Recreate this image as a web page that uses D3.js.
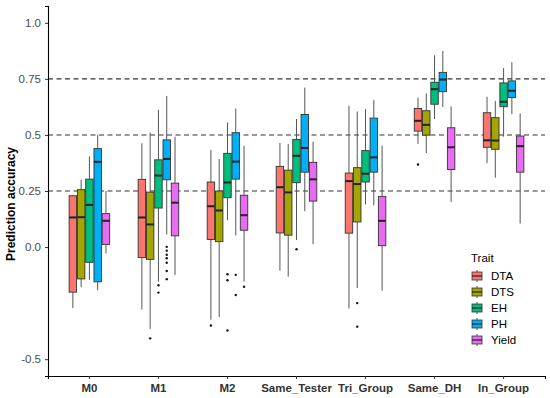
<!DOCTYPE html>
<html>
<head>
<meta charset="utf-8">
<script src="https://cdn.jsdelivr.net/npm/d3@7"></script>
<style>
  body { margin: 0; background: #fff; }
  svg { display: block; font-family: "Liberation Sans", Arial, sans-serif; }
</style>
</head>
<body>
<svg id="chart" width="550" height="398"></svg>
<script>
// groups on the x axis and the traits (fill)
const groups = ["M0", "M1", "M2", "Same_Tester", "Tri_Group", "Same_DH", "In_Group"];
const traits = ["DTA", "DTS", "EH", "PH", "Yield"];
const traitColors = ["#F8766D", "#A3A500", "#00BF7D", "#00B0F6", "#E76BF3"];
const yTicks = [1.0, 0.75, 0.5, 0.25, 0.0, -0.5];
const refLines = [0.25, 0.5, 0.75];

// per trait, one row per group: [lower whisker, q1, median, q3, upper whisker]
const dtaStats = [
  [-0.272, -0.201, 0.132, 0.229, 0.229],
  [-0.279, -0.047, 0.132, 0.302, 0.463],
  [-0.324, 0.034, 0.182, 0.290, 0.433],
  [-0.105, 0.063, 0.267, 0.360, 0.464],
  [-0.274, 0.062, 0.294, 0.330, 0.630],
  [0.460, 0.517, 0.563, 0.618, 0.667],
  [0.374, 0.445, 0.476, 0.599, 0.670]
];
const dtsStats = [
  [-0.179, -0.142, 0.133, 0.256, 0.300],
  [-0.365, -0.055, 0.101, 0.245, 0.511],
  [-0.312, 0.024, 0.163, 0.250, 0.393],
  [-0.132, 0.053, 0.244, 0.343, 0.460],
  [-0.183, 0.112, 0.281, 0.354, 0.605],
  [0.419, 0.499, 0.545, 0.608, 0.685],
  [0.309, 0.436, 0.475, 0.577, 0.652]
];
const ehStats = [
  [-0.146, -0.068, 0.188, 0.303, 0.404],
  [-0.154, 0.174, 0.319, 0.389, 0.612],
  [0.120, 0.220, 0.288, 0.418, 0.556],
  [0.031, 0.287, 0.407, 0.480, 0.571],
  [0.190, 0.290, 0.327, 0.430, 0.615],
  [0.571, 0.637, 0.704, 0.735, 0.855],
  [0.492, 0.626, 0.648, 0.732, 0.798]
];
const phStats = [
  [-0.192, -0.155, 0.380, 0.439, 0.501],
  [0.056, 0.300, 0.393, 0.478, 0.674],
  [0.052, 0.303, 0.381, 0.510, 0.618],
  [0.160, 0.334, 0.442, 0.591, 0.711],
  [0.186, 0.334, 0.400, 0.575, 0.655],
  [0.625, 0.693, 0.747, 0.779, 0.874],
  [0.593, 0.667, 0.697, 0.741, 0.824]
];
const yieldStats = [
  [-0.028, 0.012, 0.117, 0.149, 0.250],
  [-0.124, 0.050, 0.198, 0.285, 0.492],
  [-0.154, 0.075, 0.142, 0.231, 0.452],
  [0.013, 0.205, 0.302, 0.378, 0.470],
  [-0.195, 0.006, 0.117, 0.226, 0.452],
  [0.201, 0.346, 0.445, 0.532, 0.627],
  [0.105, 0.334, 0.450, 0.495, 0.596]
];
// outliers: [group, trait, value]
const outliers = [
  ["M1", "DTS", -0.407],
  ["M1", "EH", -0.170], ["M1", "EH", -0.203],
  ["M1", "PH", 0.001], ["M1", "PH", -0.016], ["M1", "PH", -0.034], ["M1", "PH", -0.050],
  ["M1", "PH", -0.070], ["M1", "PH", -0.107], ["M1", "PH", -0.143],
  ["M2", "DTA", -0.350],
  ["M2", "EH", -0.121], ["M2", "EH", -0.148], ["M2", "EH", -0.372],
  ["M2", "PH", -0.124], ["M2", "PH", -0.214],
  ["M2", "Yield", -0.177],
  ["Same_Tester", "EH", -0.010],
  ["Tri_Group", "DTS", -0.250], ["Tri_Group", "DTS", -0.355],
  ["Same_DH", "DTA", 0.368]
];

const statsByTrait = [dtaStats, dtsStats, ehStats, phStats, yieldStats];
const boxes = [];
traits.forEach((t, ti) => {
  groups.forEach((g, gi) => {
    const s = statsByTrait[ti][gi];
    boxes.push({group: g, trait: t, lo: s[0], q1: s[1], med: s[2], q3: s[3], hi: s[4]});
  });
});

const svg = d3.select("#chart");
const margin = {left: 48, right: 5, top: 6, bottom: 22};
const W = 550, H = 398;
const plotW = W - margin.left - margin.right;
const plotH = H - margin.top - margin.bottom;

const x = d3.scaleBand().domain(groups).range([0, plotW]).paddingOuter(0.1).paddingInner(0);
// ggplot style: limits -0.5..1 with 5% expansion
const y = d3.scaleLinear().domain([-0.575, 1.075]).range([plotH, 0]);
const dodge = d3.scaleBand().domain(traits).range([-x.bandwidth() * 0.3, x.bandwidth() * 0.3]);
const color = d3.scaleOrdinal().domain(traits).range(traitColors);
const boxW = dodge.bandwidth() * 0.9;

const g = svg.append("g").attr("transform", `translate(${margin.left},${margin.top})`);

// dashed reference lines
g.selectAll(".ref").data(refLines).join("line")
  .attr("x1", 0).attr("x2", plotW)
  .attr("y1", d => y(d)).attr("y2", d => y(d))
  .attr("stroke", "#333").attr("stroke-width", 1.1)
  .attr("stroke-dasharray", "5,3.5");

const cx = d => x(d.group) + x.bandwidth() / 2 + dodge(d.trait) + dodge.bandwidth() / 2;

const bx = g.selectAll(".box").data(boxes).join("g").attr("class", "box");
bx.append("line")
  .attr("x1", cx).attr("x2", cx)
  .attr("y1", d => y(d.hi)).attr("y2", d => y(d.q3))
  .attr("stroke", "#555").attr("stroke-width", 1);
bx.append("line")
  .attr("x1", cx).attr("x2", cx)
  .attr("y1", d => y(d.q1)).attr("y2", d => y(d.lo))
  .attr("stroke", "#555").attr("stroke-width", 1);
bx.append("rect")
  .attr("x", d => cx(d) - boxW / 2).attr("width", boxW)
  .attr("y", d => y(d.q3)).attr("height", d => y(d.q1) - y(d.q3))
  .attr("fill", d => color(d.trait))
  .attr("stroke", "#333").attr("stroke-width", 0.9);
bx.append("line")
  .attr("x1", d => cx(d) - boxW / 2).attr("x2", d => cx(d) + boxW / 2)
  .attr("y1", d => y(d.med)).attr("y2", d => y(d.med))
  .attr("stroke", "#222").attr("stroke-width", 2);

g.selectAll(".out").data(outliers).join("circle")
  .attr("cx", d => cx({group: d[0], trait: d[1]}))
  .attr("cy", d => y(d[2]))
  .attr("r", 1.2).attr("fill", "#111");

// axes
const yAxis = g.append("g").call(d3.axisLeft(y).tickValues(yTicks)
  .tickFormat(d => d === 0 ? "0.0" : d === 1 ? "1.0" : String(d)).tickSizeOuter(0).tickSize(3));
yAxis.select(".domain").attr("stroke", "#000").attr("stroke-width", 1.1);
yAxis.selectAll(".tick line").attr("stroke", "#333");
yAxis.selectAll(".tick text").attr("fill", "#4d4d4d").attr("font-size", 11.5).attr("dx", "-1");

const xAxis = g.append("g").attr("transform", `translate(0,${plotH})`)
  .call(d3.axisBottom(x).tickSizeOuter(0).tickSize(3));
xAxis.select(".domain").attr("stroke", "#000").attr("stroke-width", 1.1);
xAxis.selectAll(".tick line").attr("stroke", "#333");
xAxis.selectAll(".tick text").attr("fill", "#333").attr("font-size", 11.5)
  .attr("font-weight", "bold").attr("dy", "0.85em");

svg.append("text")
  .attr("transform", "translate(15,204) rotate(-90)")
  .attr("text-anchor", "middle")
  .attr("font-size", 12).attr("font-weight", "bold").attr("fill", "#000")
  .text("Prediction accuracy");

// legend
const leg = svg.append("g").attr("transform", "translate(471,0)");
leg.append("text").attr("x", 0).attr("y", 262).attr("font-size", 11.5).attr("fill", "#000").text("Trait");
const item = leg.selectAll(".li").data(traits).join("g")
  .attr("transform", (d, i) => `translate(0,${276 + i * 16})`);
item.append("line").attr("x1", 6).attr("x2", 6).attr("y1", -6).attr("y2", 6)
  .attr("stroke", "#555");
item.append("rect").attr("x", 1).attr("y", -4).attr("width", 10).attr("height", 8)
  .attr("fill", d => color(d)).attr("stroke", "#333").attr("stroke-width", 0.8);
item.append("line").attr("x1", 1).attr("x2", 11).attr("y1", 0).attr("y2", 0)
  .attr("stroke", "#222").attr("stroke-width", 1.2);
item.append("text").attr("x", 20).attr("y", 4).attr("font-size", 11.5).attr("fill", "#000").text(d => d);
</script>
</body>
</html>
